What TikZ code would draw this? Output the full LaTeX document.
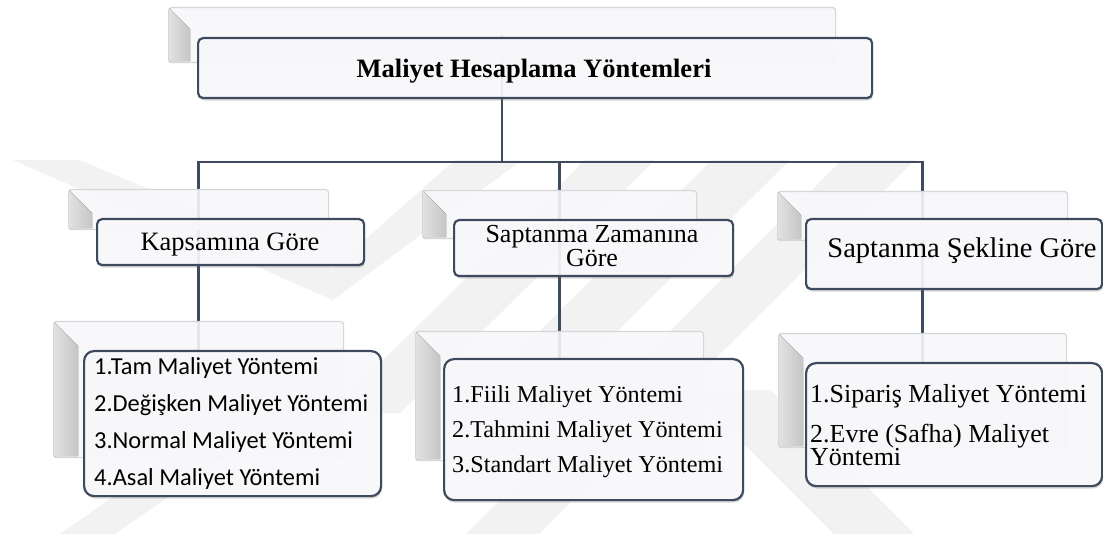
\documentclass[tikz,border=0pt]{standalone}
\usepackage{fontspec}
\setmainfont{Liberation Serif}
\newfontfamily\calib{Carlito}
\usetikzlibrary{shadows,backgrounds}

\definecolor{edge}{HTML}{3E4A5E}
\definecolor{boxfill}{HTML}{FCFCFF}
\definecolor{panelface}{HTML}{F8F8FA}
\definecolor{panelline}{HTML}{D6D6DB}
\definecolor{markgray}{HTML}{F2F2F2}

% fixed height for the first line of a text block
\newcommand{\topfix}{\rule{0pt}{20pt}}

\tikzset{
  panelbox/.style={draw=panelline, line width=1.2pt, fill=panelface, fill opacity=0.9,
    rounded corners=3pt, inner sep=0pt, anchor=north west},
  bevel/.style={left color=black!3, right color=black!15, draw=none, opacity=0.9},
  frontbox/.style={draw=edge, line width=2.2pt, fill=boxfill, fill opacity=0.9,
    rounded corners=5pt, inner sep=0pt, anchor=north west,
    drop shadow={shadow xshift=1pt, shadow yshift=-2.5pt, opacity=0.25, fill=black!60}},
  listbox/.style={frontbox, rounded corners=10pt},
  conn/.style={draw=edge, line width=2.4pt},
  boxtext/.style={inner sep=0pt, text=black, align=center, anchor=north},
  listtext/.style={inner sep=0pt, text=black, align=left, anchor=north west},
  wm/.style={fill=markgray, draw=none},
}

\begin{document}
\begin{tikzpicture}[x=1pt, y=-1pt]
\useasboundingbox (0,0) rectangle (1103,534);

% back panels
\node[panelbox, minimum width=667pt, minimum height=55pt] (p0) at (168,7) {};
\node[panelbox, minimum width=260pt, minimum height=40pt] (pk) at (68,189) {};
\node[panelbox, minimum width=274pt, minimum height=48pt] (pz) at (422,190) {};
\node[panelbox, minimum width=290pt, minimum height=49pt] (ps) at (777,191) {};
\node[panelbox, minimum width=290pt, minimum height=136pt] (pl) at (53,321) {};
\node[panelbox, minimum width=288pt, minimum height=129pt] (pm) at (415,331) {};
\node[panelbox, minimum width=288pt, minimum height=114pt] (pr) at (778,333) {};

% bevel strips on the left of each panel
\foreach \p/\w in {p0/22, pk/24, pz/24, ps/24, pl/25, pm/25, pr/25}{
  \fill[bevel] ([shift={(1,1)}]\p.north west) -- ([shift={(\w,\w)}]\p.north west)
     -- ([shift={(\w,-2)}]\p.south west) -- ([shift={(1,-2)}]\p.south west) -- cycle;
}

% front boxes
\node[frontbox, minimum width=674pt, minimum height=60pt] (top) at (197,37) {};
\node[frontbox, minimum width=267pt, minimum height=46pt] (kb) at (96,218) {};
\node[frontbox, minimum width=279pt, minimum height=56pt] (zb) at (453,219) {};
\node[frontbox, minimum width=296pt, minimum height=70pt] (sb) at (805,218) {};
\node[listbox, minimum width=297pt, minimum height=145pt] (lb) at (83,350) {};
\node[listbox, minimum width=299pt, minimum height=141pt] (mb) at (443,358) {};
\node[listbox, minimum width=296pt, minimum height=123pt] (rb) at (805,362) {};

% texts
\node[boxtext, font=\fontsize{26.5}{30}\selectfont\bfseries] (tt) at (534,57)
  {\topfix Maliyet Hesaplama Yöntemleri};
\node[boxtext, font=\fontsize{26.5}{24}\selectfont] (kt) at (230,230)
  {\topfix Kapsamına Göre};
\node[boxtext, font=\fontsize{26}{24}\selectfont] (zt) at (592,222)
  {\topfix Saptanma Zamanına\\Göre};
\node[boxtext, font=\fontsize{28.5}{24}\selectfont] (st) at (962,237)
  {\topfix Saptanma Şekline Göre};
\node[listtext, font=\calib\fontsize{24.4}{37}\selectfont] (lt) at (94,354)
  {\topfix 1.Tam Maliyet Yöntemi\\2.Değişken Maliyet Yöntemi\\3.Normal Maliyet Yöntemi\\4.Asal Maliyet Yöntemi};
\node[listtext, font=\fontsize{24.2}{35}\selectfont] (mt) at (452,382)
  {\topfix 1.Fiili Maliyet Yöntemi\\2.Tahmini Maliyet Yöntemi\\3.Standart Maliyet Yöntemi};
\node[listtext, font=\fontsize{26}{21}\selectfont] (rt) at (810,382)
  {\topfix 1.Sipariş Maliyet Yöntemi\\[15pt]2.Evre (Safha) Maliyet\\Yöntemi};

\begin{scope}[on background layer]
  \fill[white] (0,0) rectangle (1103,534);
  % faint watermark stripes
  \fill[wm] (13,160) -- (80,160) -- (333,268) -- (455,160) -- (522,160) -- (333,300) -- cycle;
  \fill[wm] (60,534) -- (115,534) -- (300,405) -- (245,405) -- cycle;
  \fill[wm] (585,160) -- (655,160) -- (400,413) -- (330,413) -- cycle;
  \fill[wm] (712,160) -- (790,160) -- (540,408) -- (462,408) -- cycle;
  \fill[wm] (842,160) -- (915,160) -- (539,534) -- (466,534) -- cycle;
  \fill[wm] (690,390) -- (770,390) -- (914,534) -- (834,534) -- cycle;
  % connectors between the panels
  \coordinate (hub) at (502,162);
  \draw[conn] (p0.center) -- (p0.center |- hub);
  \draw[conn] (pk.center) |- (hub) -| (ps.center);
  \draw[conn] (pz.center) -- (pz.center |- hub);
  \draw[conn] (pk.center) -- (pl.center);
  \draw[conn] (pz.center) -- (pm.center);
  \draw[conn] (ps.center) -- (pr.center);
\end{scope}
\end{tikzpicture}
\end{document}
